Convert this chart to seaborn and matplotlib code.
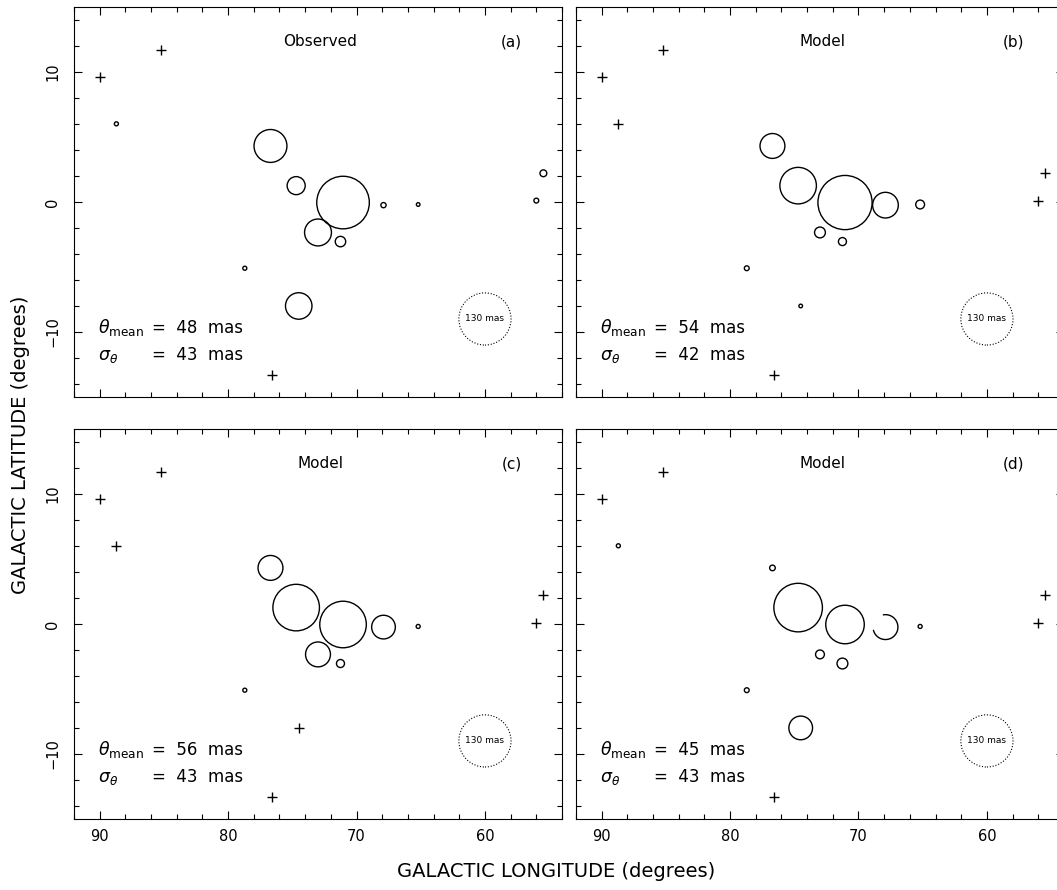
import numpy as np
import pandas as pd
import matplotlib
matplotlib.use("Agg")
import matplotlib.pyplot as plt
from matplotlib.ticker import MultipleLocator
import seaborn as sns

# Source positions (galactic longitude / latitude, degrees)
src_l = [85.2, 90.0, 88.7, 76.7, 74.7, 71.05, 67.9, 65.2, 73.0, 71.25, 78.7, 74.5, 76.6, 55.45, 56.0]
src_b = [11.7, 9.6, 6.0, 4.3, 1.25, -0.05, -0.25, -0.2, -2.35, -3.05, -5.1, -8.0, -13.3, 2.2, 0.1]

# Angular sizes in mas; NaN marks a source without a size (drawn as a cross)
nan = np.nan
theta_obs = [nan, nan, 10, 82, 45, 131, 13, 9, 67, 26, 10, 66, nan, 17, 12]
theta_b = [nan, nan, nan, 62, 91, 135, 64, 22, 27, 20, 12, 9, nan, nan, nan]
theta_c = [nan, nan, nan, 62, 116, 116, 59, 10, 62, 20, 10, nan, nan, nan, nan]
theta_d = [nan, nan, 10, 14, 121, 96, 62, 10, 22, 27, 12, 59, nan, nan, nan]

panel_names = ["Observed", "Model", "Model", "Model"]
panel_tags = ["(a)", "(b)", "(c)", "(d)"]
theta_mean = [48, 54, 56, 45]
sigma_theta = [43, 42, 43, 43]

# Scale marker: a ring of this size in mas
ref_theta = 130
ref_l, ref_b = 60.0, -9.0

# In panel (d) one ring is drawn only partly (index into the source list)
partial_ring_panel = 3
partial_ring_src = 6

XLIM = (92, 54)
YLIM = (-15, 15)
MAS_PER_DEG = 32.0

sns.set_style("white")
plt.rcParams["font.family"] = ["DejaVu Sans"]
plt.rcParams["mathtext.fontset"] = "dejavusans"
plt.rcParams["text.color"] = "black"
plt.rcParams["axes.labelcolor"] = "black"
plt.rcParams["xtick.color"] = "black"
plt.rcParams["ytick.color"] = "black"

W, H = 1057, 890
fig = plt.figure(figsize=(W / 100, H / 100), dpi=100)

ax_w, ax_h = 0.4617, 0.4385
positions = [
    (0.0700, 0.5539), (0.5449, 0.5539),
    (0.0700, 0.0798), (0.5449, 0.0798),
]
all_theta = [theta_obs, theta_b, theta_c, theta_d]

# points per degree along x, used for ring diameters
pt_per_deg = ax_w * (W / 100) * 72 / abs(XLIM[0] - XLIM[1])
pt_per_mas = pt_per_deg / MAS_PER_DEG
px_x = ax_w * W / abs(XLIM[0] - XLIM[1])
px_y = ax_h * H / abs(YLIM[1] - YLIM[0])

for i, (left, bottom) in enumerate(positions):
    ax = fig.add_axes([left, bottom, ax_w, ax_h])
    df = pd.DataFrame({"l": src_l, "b": src_b, "theta": all_theta[i]})
    df["ring"] = df["theta"].notna()
    if i == partial_ring_panel:
        df.loc[partial_ring_src, "ring"] = False

    rings = df[df["ring"]]
    sns.scatterplot(data=rings, x="l", y="b", ax=ax, marker="o",
                    s=(rings["theta"].to_numpy() * pt_per_mas) ** 2,
                    color="black", facecolor="none", edgecolor="black",
                    linewidth=1.0, legend=False, zorder=3)

    crosses = df[df["theta"].isna()]
    sns.scatterplot(data=crosses, x="l", y="b", ax=ax, marker="+", s=46,
                    color="black", linewidth=1.0, legend=False, zorder=3)

    if i == partial_ring_panel:
        row = df.loc[partial_ring_src]
        rx = row["theta"] / MAS_PER_DEG / 2
        ry = rx * px_x / px_y
        phi = np.radians(np.linspace(-165, 100, 120))
        ax.plot(row["l"] - rx * np.cos(phi), row["b"] + ry * np.sin(phi),
                color="black", lw=1.0, zorder=3)

    # dotted reference ring
    ref = ax.scatter([ref_l], [ref_b], s=(ref_theta * pt_per_mas) ** 2,
                     marker="o", facecolor="none", edgecolor="black",
                     linewidth=0.8, zorder=3)
    ref.set_linestyle((0, (1, 1.6)))
    ax.text(ref_l, ref_b, f"{ref_theta} mas", ha="center", va="center",
            fontsize=6.5)

    ax.set_xlim(*XLIM)
    ax.set_ylim(*YLIM)
    ax.set_xlabel("")
    ax.set_ylabel("")
    ax.xaxis.set_major_locator(MultipleLocator(10))
    ax.xaxis.set_minor_locator(MultipleLocator(2))
    ax.yaxis.set_major_locator(MultipleLocator(10))
    ax.yaxis.set_minor_locator(MultipleLocator(2))
    ax.tick_params(which="both", direction="in", top=True, right=True,
                   bottom=True, left=True, width=0.8, color="black")
    ax.tick_params(which="major", length=6)
    ax.tick_params(which="minor", length=3.5)
    ax.tick_params(axis="x", labelsize=10.5, pad=7)
    ax.tick_params(axis="y", labelsize=10.5, pad=10)
    for lab in ax.get_yticklabels():
        lab.set_rotation(90)
        lab.set_va("center")
    if i < 2:
        ax.tick_params(axis="x", labelbottom=False)
    if i % 2 == 1:
        ax.tick_params(axis="y", labelleft=False)
    for sp in ax.spines.values():
        sp.set_visible(True)
        sp.set_color("black")
        sp.set_linewidth(0.8)

    ax.text(0.505, 0.91, panel_names[i], transform=ax.transAxes,
            ha="center", va="center", fontsize=11)
    ax.text(0.897, 0.91, panel_tags[i], transform=ax.transAxes,
            ha="center", va="center", fontsize=11)
    ax.text(0.05, 0.163, r"$\theta_{\mathrm{mean}}$", transform=ax.transAxes,
            ha="left", va="baseline", fontsize=12.5)
    ax.text(0.159, 0.163, f"=  {theta_mean[i]}  mas", transform=ax.transAxes,
            ha="left", va="baseline", fontsize=12)
    ax.text(0.05, 0.095, r"$\sigma_{\theta}$", transform=ax.transAxes,
            ha="left", va="baseline", fontsize=12.5)
    ax.text(0.159, 0.095, f"=  {sigma_theta[i]}  mas", transform=ax.transAxes,
            ha="left", va="baseline", fontsize=12)

fig.text(0.5265, 0.0206, "GALACTIC LONGITUDE (degrees)", ha="center",
         va="center", fontsize=14)
fig.text(0.019, 0.5, "GALACTIC LATITUDE (degrees)", ha="center",
         va="center", rotation=90, fontsize=14)

fig.savefig("out.png", dpi=100, facecolor="white")
